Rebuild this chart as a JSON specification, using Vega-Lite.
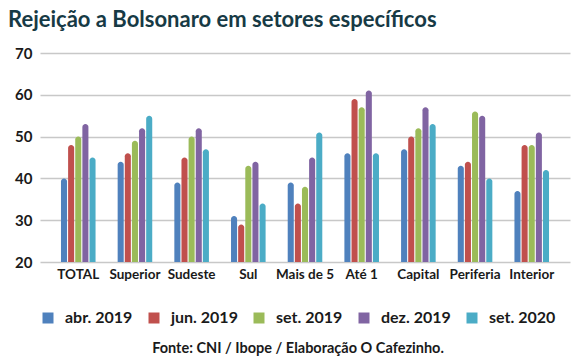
{
  "$schema": "https://vega.github.io/schema/vega-lite/v6.json",
  "width": 530,
  "height": 209,
  "autosize": {"type": "none"},
  "padding": {"left": 40, "top": 53, "right": 15, "bottom": 98},
  "background": "white",
  "title": {
    "text": "Rejeição a Bolsonaro em setores específicos",
    "anchor": "start",
    "frame": "group",
    "dx": -32,
    "offset": 14,
    "font": "Lato",
    "fontSize": 22,
    "fontWeight": "bold",
    "color": "#173a45"
  },
  "config": {
    "view": {"stroke": null},
    "font": "Lato"
  },
  "data": {
    "values": [
      {"setor": "TOTAL", "periodo": "abr. 2019", "valor": 40},
      {"setor": "TOTAL", "periodo": "jun. 2019", "valor": 48},
      {"setor": "TOTAL", "periodo": "set. 2019", "valor": 50},
      {"setor": "TOTAL", "periodo": "dez. 2019", "valor": 53},
      {"setor": "TOTAL", "periodo": "set. 2020", "valor": 45},
      {"setor": "Superior", "periodo": "abr. 2019", "valor": 44},
      {"setor": "Superior", "periodo": "jun. 2019", "valor": 46},
      {"setor": "Superior", "periodo": "set. 2019", "valor": 49},
      {"setor": "Superior", "periodo": "dez. 2019", "valor": 52},
      {"setor": "Superior", "periodo": "set. 2020", "valor": 55},
      {"setor": "Sudeste", "periodo": "abr. 2019", "valor": 39},
      {"setor": "Sudeste", "periodo": "jun. 2019", "valor": 45},
      {"setor": "Sudeste", "periodo": "set. 2019", "valor": 50},
      {"setor": "Sudeste", "periodo": "dez. 2019", "valor": 52},
      {"setor": "Sudeste", "periodo": "set. 2020", "valor": 47},
      {"setor": "Sul", "periodo": "abr. 2019", "valor": 31},
      {"setor": "Sul", "periodo": "jun. 2019", "valor": 29},
      {"setor": "Sul", "periodo": "set. 2019", "valor": 43},
      {"setor": "Sul", "periodo": "dez. 2019", "valor": 44},
      {"setor": "Sul", "periodo": "set. 2020", "valor": 34},
      {"setor": "Mais de 5", "periodo": "abr. 2019", "valor": 39},
      {"setor": "Mais de 5", "periodo": "jun. 2019", "valor": 34},
      {"setor": "Mais de 5", "periodo": "set. 2019", "valor": 38},
      {"setor": "Mais de 5", "periodo": "dez. 2019", "valor": 45},
      {"setor": "Mais de 5", "periodo": "set. 2020", "valor": 51},
      {"setor": "Até 1", "periodo": "abr. 2019", "valor": 46},
      {"setor": "Até 1", "periodo": "jun. 2019", "valor": 59},
      {"setor": "Até 1", "periodo": "set. 2019", "valor": 57},
      {"setor": "Até 1", "periodo": "dez. 2019", "valor": 61},
      {"setor": "Até 1", "periodo": "set. 2020", "valor": 46},
      {"setor": "Capital", "periodo": "abr. 2019", "valor": 47},
      {"setor": "Capital", "periodo": "jun. 2019", "valor": 50},
      {"setor": "Capital", "periodo": "set. 2019", "valor": 52},
      {"setor": "Capital", "periodo": "dez. 2019", "valor": 57},
      {"setor": "Capital", "periodo": "set. 2020", "valor": 53},
      {"setor": "Periferia", "periodo": "abr. 2019", "valor": 43},
      {"setor": "Periferia", "periodo": "jun. 2019", "valor": 44},
      {"setor": "Periferia", "periodo": "set. 2019", "valor": 56},
      {"setor": "Periferia", "periodo": "dez. 2019", "valor": 55},
      {"setor": "Periferia", "periodo": "set. 2020", "valor": 40},
      {"setor": "Interior", "periodo": "abr. 2019", "valor": 37},
      {"setor": "Interior", "periodo": "jun. 2019", "valor": 48},
      {"setor": "Interior", "periodo": "set. 2019", "valor": 48},
      {"setor": "Interior", "periodo": "dez. 2019", "valor": 51},
      {"setor": "Interior", "periodo": "set. 2020", "valor": 42}
    ]
  },
  "mark": {"type": "bar", "cornerRadiusTopLeft": 3, "cornerRadiusTopRight": 3},
  "encoding": {
    "x": {
      "field": "setor",
      "type": "nominal",
      "sort": ["TOTAL", "Superior", "Sudeste", "Sul", "Mais de 5", "Até 1", "Capital", "Periferia", "Interior"],
      "scale": {"paddingInner": 0.39, "paddingOuter": 0.37},
      "axis": {
        "title": null,
        "labelAngle": 0,
        "labelFont": "Lato",
        "labelFontSize": 13.5,
        "labelFontWeight": "bold",
        "labelColor": "#1a1a1a",
        "labelPadding": 5,
        "domain": false,
        "ticks": false
      }
    },
    "xOffset": {
      "field": "periodo",
      "type": "nominal",
      "scale": {"domain": ["abr. 2019", "jun. 2019", "set. 2019", "dez. 2019", "set. 2020"], "paddingInner": 0.15}
    },
    "y": {
      "field": "valor",
      "type": "quantitative",
      "scale": {"domain": [20, 70], "nice": false},
      "axis": {
        "title": null,
        "values": [20, 30, 40, 50, 60, 70],
        "labelFont": "Lato",
        "labelFontSize": 15,
        "labelFontWeight": "bold",
        "labelColor": "#1a1a1a",
        "labelPadding": 8,
        "domain": false,
        "ticks": false,
        "gridColor": "#c8c8c8",
        "gridWidth": 1.5
      }
    },
    "y2": {"datum": 20},
    "color": {
      "field": "periodo",
      "type": "nominal",
      "scale": {
        "domain": ["abr. 2019", "jun. 2019", "set. 2019", "dez. 2019", "set. 2020"],
        "range": ["#4f81bd", "#c0504d", "#9bbb59", "#8064a2", "#4bacc6"]
      },
      "legend": {
        "title": "Fonte: CNI / Ibope / Elaboração O Cafezinho.",
        "titleOrient": "bottom",
        "titleAnchor": "middle",
        "titleFont": "Lato",
        "titleFontSize": 14.5,
        "titleFontWeight": "bold",
        "titleColor": "#1a1a1a",
        "titlePadding": 16,
        "titleLimit": 500,
        "orient": "bottom",
        "direction": "horizontal",
        "offset": 29,
        "symbolType": "square",
        "symbolSize": 121,
        "symbolStrokeWidth": 0,
        "labelFont": "Lato",
        "labelFontSize": 16,
        "labelFontWeight": "bold",
        "labelColor": "#1a1a1a",
        "labelOffset": 9,
        "columnPadding": 13,
        "labelLimit": 200
      }
    }
  }
}
